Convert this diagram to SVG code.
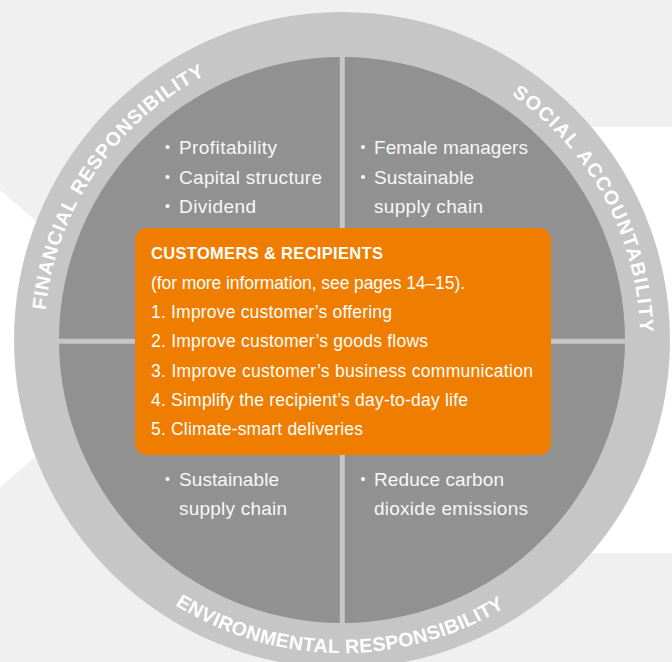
<svg xmlns="http://www.w3.org/2000/svg" xmlns:xlink="http://www.w3.org/1999/xlink" width="672" height="662" viewBox="0 0 672 662">
  <style>
    .ring-label { font-family: "Liberation Sans", Arial, sans-serif; font-weight: bold; font-size: 19.5px; fill: #ffffff; }
    .item { font-family: "Liberation Sans", Arial, sans-serif; font-size: 19px; fill: #f7f7f7; }
    .bullet { font-family: "Liberation Sans", Arial, sans-serif; font-size: 14px; fill: #f7f7f7; }
    .box-title { font-family: "Liberation Sans", Arial, sans-serif; font-weight: bold; font-size: 16.5px; fill: #ffffff; }
    .box-text { font-family: "Liberation Sans", Arial, sans-serif; font-size: 17.5px; fill: #ffffff; }
    .divider { stroke: #c6c6c6; stroke-width: 5; }
  </style>
  <defs>
    <!-- baseline arcs around the wheel centre (342,340) -->
    <path id="arc-financial" d="M 73.5 469.2 A 298 298 0 0 1 364.3 42.8"/>
    <path id="arc-social" d="M 351.1 42.1 A 298 298 0 0 1 595.4 496.8"/>
    <path id="arc-environmental" d="M 69.8 494.6 A 313 313 0 0 0 612.0 498.4"/>
  </defs>

  <!-- backdrop -->
  <g id="backdrop">
    <rect x="0" y="0" width="672" height="662" fill="#f0f0f0"/>
    <polygon points="0,190 170,336 0,488" fill="#ffffff"/>
    <rect x="420" y="127" width="252" height="426" fill="#ffffff"/>
  </g>

  <!-- wheel -->
  <g id="wheel">
    <circle cx="342" cy="340" r="328" fill="#c6c6c6"/>
    <circle cx="342" cy="340" r="283" fill="#919191"/>
  </g>

  <!-- quadrant dividers -->
  <g id="connectors">
    <line class="divider" x1="342.3" y1="57" x2="342.3" y2="623"/>
    <line class="divider" x1="59" y1="341.3" x2="625" y2="341.3"/>
  </g>

  <!-- ring captions -->
  <g id="label-financial">
    <text class="ring-label"><textPath href="#arc-financial" xlink:href="#arc-financial" startOffset="50%" text-anchor="middle" letter-spacing="1">FINANCIAL RESPONSIBILITY</textPath></text>
  </g>
  <g id="label-social">
    <text class="ring-label"><textPath href="#arc-social" xlink:href="#arc-social" startOffset="50%" text-anchor="middle" letter-spacing="1.5">SOCIAL ACCOUNTABILITY</textPath></text>
  </g>
  <g id="label-environmental">
    <text class="ring-label"><textPath href="#arc-environmental" xlink:href="#arc-environmental" startOffset="50%" text-anchor="middle" letter-spacing="0.4">ENVIRONMENTAL RESPONSIBILITY</textPath></text>
  </g>

  <!-- quadrant contents -->
  <g id="quadrant-financial">
    <text class="bullet" x="165" y="152">•</text>
    <text class="bullet" x="165" y="181.5">•</text>
    <text class="bullet" x="165" y="210.5">•</text>
    <text class="item" x="179" y="154" textLength="98" lengthAdjust="spacing">Profitability</text>
    <text class="item" x="179" y="183.5" textLength="143" lengthAdjust="spacing">Capital structure</text>
    <text class="item" x="179" y="212.5" textLength="77" lengthAdjust="spacing">Dividend</text>
  </g>
  <g id="quadrant-social">
    <text class="bullet" x="360.5" y="152">•</text>
    <text class="bullet" x="360.5" y="181.5">•</text>
    <text class="item" x="374" y="154" textLength="154" lengthAdjust="spacing">Female managers</text>
    <text class="item" x="374" y="183.5" textLength="100" lengthAdjust="spacing">Sustainable</text>
    <text class="item" x="374" y="212.5" textLength="109" lengthAdjust="spacing">supply chain</text>
  </g>
  <g id="quadrant-environmental-left">
    <text class="bullet" x="165" y="484">•</text>
    <text class="item" x="179" y="486" textLength="100" lengthAdjust="spacing">Sustainable</text>
    <text class="item" x="179" y="515" textLength="108" lengthAdjust="spacing">supply chain</text>
  </g>
  <g id="quadrant-environmental-right">
    <text class="bullet" x="360.5" y="484">•</text>
    <text class="item" x="374" y="486" textLength="130" lengthAdjust="spacing">Reduce carbon</text>
    <text class="item" x="374" y="515" textLength="154" lengthAdjust="spacing">dioxide emissions</text>
  </g>

  <!-- centre box -->
  <g id="customers">
    <rect x="135" y="228" width="416" height="227" rx="12" ry="12" fill="#ef7d00"/>
    <text class="box-title" x="151" y="259" textLength="232" lengthAdjust="spacing">CUSTOMERS &amp; RECIPIENTS</text>
    <text class="box-text" x="151" y="288.5" textLength="314" lengthAdjust="spacing">(for more information, see pages 14–15).</text>
    <text class="box-text" x="151" y="318" textLength="241" lengthAdjust="spacing">1. Improve customer’s offering</text>
    <text class="box-text" x="151" y="347" textLength="277" lengthAdjust="spacing">2. Improve customer’s goods flows</text>
    <text class="box-text" x="151" y="376.5" textLength="382" lengthAdjust="spacing">3. Improve customer’s business communication</text>
    <text class="box-text" x="151" y="406" textLength="317" lengthAdjust="spacing">4. Simplify the recipient’s day-to-day life</text>
    <text class="box-text" x="151" y="435" textLength="212" lengthAdjust="spacing">5. Climate-smart deliveries</text>
  </g>
</svg>
